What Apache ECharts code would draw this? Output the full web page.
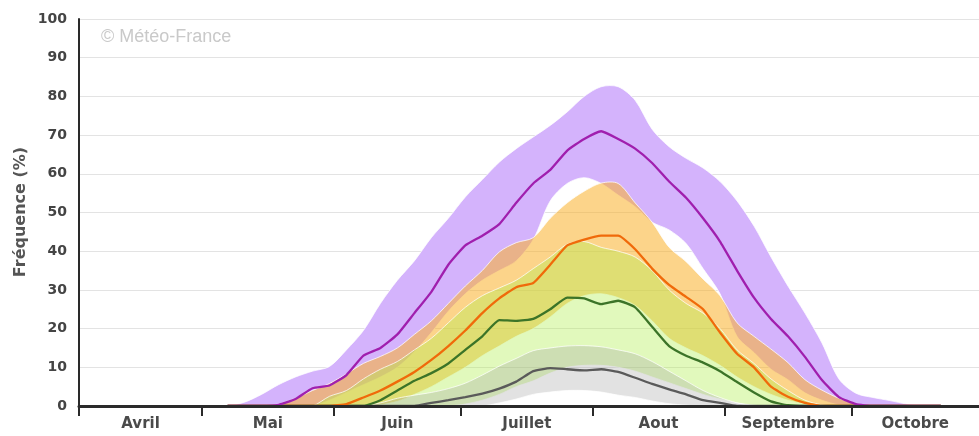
<!DOCTYPE html>
<html>
<head>
<meta charset="utf-8">
<script src="https://cdn.jsdelivr.net/npm/echarts@6/dist/echarts.min.js"></script>
<style>
  html, body { margin: 0; padding: 0; background: #fff; }
  #chart { width: 979px; height: 436px; }
</style>
</head>
<body>
<div id="chart"></div>
<script>
// Days counted from 1 April (0 = 1 April)
const days = [36,40,44,48,52,56,60,64,68,72,76,80,84,88,92,96,100,104,108,112,116,120,124,128,132,136,140,144,148,152,156,160,164,168,172,176,180,184,188,192,196,200,204];

// Month boundaries and names for the x axis
const monthStarts = [1, 30, 61, 91, 122, 153, 183, 213];
const monthNames = ['Avril', 'Mai', 'Juin', 'Juillet', 'Aout', 'Septembre', 'Octobre'];
const yTicks = [0, 10, 20, 30, 40, 50, 60, 70, 80, 90, 100];

// Purple group
const purpleLow  = [0,0,0,0,0,0,1.5,3.5,5.5,7.5,10,14,19,24.5,29,32.5,35,37.5,43,53,57.5,59,57.5,54.5,51.5,47.5,45.5,42,35.5,29,18,13.8,9.5,6.8,3.4,1.5,0.3,0,0,0,0,0,0];
const purpleHigh = [0,1,3,5.5,7.5,9,10.2,14.5,19.5,26.5,32.5,37.5,43.5,48.5,54,58.5,63,66.5,69.5,72.5,76,80,82.5,82.5,79,71.5,67,64,61.5,58,53,46.5,38.5,31,24,16.3,7,3.3,2.2,1.4,0.5,0,0];
const purpleMid  = [0,0,0,0.3,1.8,4.6,5.3,8,13,15,18.5,24,29.5,36.5,41.5,44,47,52.5,57.5,61,66,69,71,69,66.5,62.8,58,53.8,48.5,42.5,35,28,22.5,18,12.7,6.7,2.3,0.5,0,0,0,0,0];

// Orange group
const orangeLow  = [0,0,0,0,0,0,0,0,0,0.3,1.2,3,5,7.5,10,13,15.5,18,20,23,26.5,28.5,29,28,26,22,17.5,15,13,10.5,7.5,5,3,1.5,0.5,0,0,0,0,0,0,0,0];
const orangeHigh = [0,0,0,0.5,2,4,5.8,8.3,11,12.8,15,18.5,22,26.5,31,35,39.8,42.2,43.5,48.5,52.5,55.5,57.6,57.5,52.5,47.5,41,37.3,32.8,28.5,21.5,18,14.7,11.2,6.8,4.1,2,0.6,0,0,0,0,0];
const orangeMid  = [0,0,0,0,0,0,0,0.5,2.2,4,6.3,8.8,11.9,15.5,19.5,24,27.8,30.7,31.8,36.5,41.5,43,44,44,40.5,35.5,31.3,28.2,25,19,13.5,10,5,2.4,0.8,0,0,0,0,0,0,0,0];

// Green group
const greenLow  = [0,0,0,0,0,0,0,0,0,0,0,0,0,0,0.5,1.5,3,5,6.5,8.5,10,10.5,10.5,10,9,7.5,6,4.5,3,1.8,0.8,0.2,0,0,0,0,0,0,0,0,0,0,0];
const greenHigh = [0,0,0,0,0,0,2.5,4,7,9.5,11.5,14.5,17.5,21.5,25.5,28.5,30.5,32.5,35.5,38.5,41.8,42.5,41,40,38.5,35,30,26.5,24,20,14.5,11,7,4,1.5,0.3,0,0,0,0,0,0,0];
const greenMid  = [0,0,0,0,0,0,0,0,0,1.5,4,6.5,8.5,11,14.5,18,22.2,22,22.5,25,28,27.8,26.3,27.2,25.5,20.5,15.5,13,11.2,9,6.2,3.5,1.2,0.2,0,0,0,0,0,0,0,0,0];

// Grey group
const greyLow  = [0,0,0,0,0,0,0,0,0,0,0,0,0,0,0,0,0.8,1.8,3,3.6,4,4,3.6,2.8,2.2,1.3,0.6,0.2,0,0,0,0,0,0,0,0,0,0,0,0,0,0,0];
const greyHigh = [0,0,0,0,0,0,0,0,0,0.8,2,2.8,3.5,4.5,5.9,8,10.3,12.3,14.3,15,15.5,15.6,15.3,14.5,13.5,11.5,9,6.5,4,2.2,0.8,0,0,0,0,0,0,0,0,0,0,0,0];
const greyMid  = [0,0,0,0,0,0,0,0,0,0,0,0,0.8,1.5,2.3,3.2,4.5,6.3,9,9.8,9.5,9.2,9.5,8.8,7.3,5.7,4.3,3,1.5,0.8,0,0,0,0,0,0,0,0,0,0,0,0,0];

const FONT = '"DejaVu Sans", Verdana, sans-serif';
const EDGE = 'rgba(255,255,255,0.75)';
const SMOOTH = 0.3;

function pairs(values) {
  return days.map((d, i) => [d, values[i]]);
}

// A filled band between a low and a high curve, drawn once as a polygon
// whose vertices are placed through the grid's own coordinate system.
function band(id, low, high, fill) {
  return {
    type: 'custom', name: id, silent: true, z: 2,
    coordinateSystem: 'cartesian2d',
    data: days.map((d, i) => [d, low[i], high[i]]),
    encode: { x: 0, y: [1, 2] },
    renderItem: function (params, api) {
      if (params.dataIndex !== 0) return null;
      const top = days.map((d, i) => api.coord([d, high[i]]));
      const bottom = days.map((d, i) => api.coord([d, low[i]]));
      const baseY = api.coord([days[0], 0])[1];
      // keep smoothed edges from dipping under the zero line
      const clampY = p => [p[0], Math.min(p[1], baseY)];
      const ring = top.concat(bottom.slice().reverse()).map(clampY);
      return {
        type: 'group',
        children: [
          { type: 'polygon', shape: { points: ring, smooth: SMOOTH }, style: { fill: fill, stroke: null } },
          { type: 'polyline', shape: { points: top, smooth: SMOOTH }, style: { stroke: EDGE, lineWidth: 1, fill: null } },
          { type: 'polyline', shape: { points: bottom, smooth: SMOOTH }, style: { stroke: EDGE, lineWidth: 1, fill: null } }
        ]
      };
    }
  };
}

function curve(id, values, color) {
  return {
    type: 'line', name: id, data: pairs(values), symbol: 'none',
    smooth: 0.15, lineStyle: { color: color, width: 2.3 },
    silent: true, z: 3
  };
}

const chart = echarts.init(document.getElementById('chart'), null, { renderer: 'canvas' });

const labelCentres = monthNames.map((_, i) => (monthStarts[i] + monthStarts[i + 1]) / 2);

chart.setOption({
  animation: false,
  backgroundColor: '#ffffff',
  grid: { left: 79, right: 0, top: 19, bottom: 30, containLabel: false },
  xAxis: {
    type: 'value',
    min: monthStarts[0],
    max: monthStarts[monthStarts.length - 1],
    z: 10,
    axisLine: { show: true, lineStyle: { color: '#2a2a2a', width: 3 } },
    axisTick: {
      show: true, length: 10, inside: false,
      customValues: monthStarts.slice(0, -1),
      lineStyle: { color: '#2a2a2a', width: 2 }
    },
    axisLabel: {
      show: true, margin: 11,
      customValues: labelCentres,
      formatter: function (v) {
        const i = labelCentres.findIndex(c => Math.abs(c - v) < 0.01);
        return i >= 0 ? monthNames[i] : '';
      },
      color: '#4a4a4a', fontFamily: FONT, fontWeight: 'bold', fontSize: 15
    },
    splitLine: { show: false }
  },
  yAxis: {
    type: 'value',
    min: yTicks[0], max: yTicks[yTicks.length - 1], interval: 10,
    axisLine: { show: true, lineStyle: { color: '#2a2a2a', width: 2 } },
    axisTick: { show: false },
    axisLabel: {
      margin: 12, color: '#444', fontFamily: FONT, fontWeight: 'bold', fontSize: 14
    },
    splitLine: { show: true, lineStyle: { color: '#e3e3e3', width: 1 } }
  },
  graphic: [
    {
      type: 'text', left: 101, top: 28, silent: true,
      style: { text: '© Météo-France', fill: '#c9c9c9', font: '18px "Liberation Sans", Arial, sans-serif' }
    },
    {
      type: 'text', x: 21, y: 212, rotation: Math.PI / 2, silent: true,
      style: {
        text: 'Fréquence (%)', fill: '#555', align: 'center', verticalAlign: 'middle',
        font: 'bold 16px ' + FONT
      }
    }
  ],
  series: [
    band('violet', purpleLow, purpleHigh, '#d4b3fc'),
    band('orange', orangeLow, orangeHigh, 'rgba(250,177,42,0.55)'),
    band('vert', greenLow, greenHigh, 'rgba(176,240,80,0.38)'),
    band('gris', greyLow, greyHigh, 'rgba(160,160,160,0.3)'),
    curve('médiane gris', greyMid, '#5a5a5a'),
    curve('médiane vert', greenMid, '#3c7428'),
    curve('médiane orange', orangeMid, '#f06a0a'),
    curve('médiane violet', purpleMid, '#a01fae')
  ]
});
</script>
</body>
</html>
